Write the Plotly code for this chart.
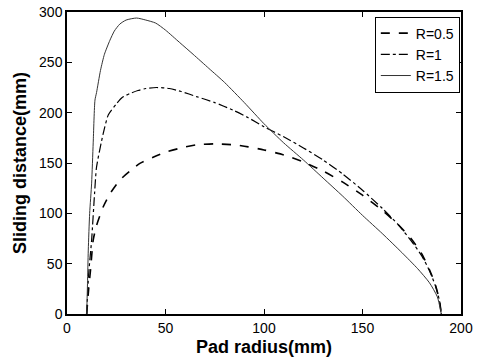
import plotly.graph_objects as go

# Data
x_r05 = [10, 11, 12, 13.3, 15, 18.4, 22, 26.8, 32, 37, 44, 50.5, 58, 65.7, 75, 85, 92, 100, 110,
         120, 130, 140, 150, 160, 168, 175, 180, 184, 187, 189, 190]
y_r05 = [0, 25, 45, 73.5, 88, 106.5, 120, 133, 142, 149.6, 156, 161, 165, 168, 169, 168, 166, 163, 158,
         151, 142, 131, 118, 103, 89, 74, 60, 44, 29, 14, 0]

x_r1 = [10, 11, 12.5, 14, 15, 18.4, 21, 25.2, 28, 31.9, 36, 40, 45.4, 52, 58, 65.7, 75, 84.2, 92, 100,
        110, 120, 130, 140, 150, 160, 168, 175, 180, 184, 187, 189, 190]
y_r1 = [0, 40, 73.5, 120, 146, 179.5, 198, 209, 215, 219, 222, 224, 225, 224, 221, 216, 210, 202.6, 195, 186,
        176, 165, 153, 139, 123, 105, 89, 72, 58, 43, 28, 14, 0]

x_r15 = [10, 10.4, 10.8, 11.5, 12.5, 13.3, 14.2, 15, 17, 19, 21.8, 24, 26.8, 30, 35.3, 40, 45, 50, 57, 64,
         72, 80, 90, 100, 110, 120, 130, 140, 150, 160, 170, 178, 184, 188, 190]
y_r15 = [0, 30, 63.5, 100, 130, 170, 212.5, 220, 242, 258, 272, 281, 288, 292, 294, 292, 289, 282, 270, 258,
         244, 230, 210, 189, 170, 153, 135, 117, 98, 80, 61, 45, 31, 17, 0]

x_ticks = [0, 50, 100, 150, 200]
y_ticks = [0, 50, 100, 150, 200, 250, 300]

fig = go.Figure()
fig.add_trace(go.Scatter(x=x_r05, y=y_r05, mode="lines", name="R=0.5",
                         line=dict(color="black", width=1.6, dash="dash", shape="spline", smoothing=0.6)))
fig.add_trace(go.Scatter(x=x_r1, y=y_r1, mode="lines", name="R=1",
                         line=dict(color="black", width=1.2, dash="dashdot", shape="spline", smoothing=0.6)))
fig.add_trace(go.Scatter(x=x_r15, y=y_r15, mode="lines", name="R=1.5",
                         line=dict(color="#333333", width=1, shape="spline", smoothing=0.6)))

axis_common = dict(showgrid=False, zeroline=False, showline=True, linecolor="black", linewidth=1.5,
                   mirror="ticks", ticks="inside", ticklen=5, tickcolor="black", tickwidth=1,
                   automargin=False,
                   tickfont=dict(family="Liberation Sans, Arial", size=14, color="black"))

fig.update_layout(
    width=480, height=362,
    margin=dict(l=67, r=19, t=12, b=48),
    paper_bgcolor="white", plot_bgcolor="white",
    showlegend=True,
    legend=dict(x=0.997, y=0.985, xanchor="right", yanchor="top",
                bgcolor="white", bordercolor="black", borderwidth=1,
                font=dict(family="Liberation Sans, Arial", size=14, color="black"),
                tracegroupgap=0, itemwidth=30),
    xaxis=dict(range=[0, 200], tickvals=x_ticks,
               title=dict(text="<b>Pad radius(mm)</b>", standoff=6,
                          font=dict(family="Liberation Sans, Arial", size=18, color="black")),
               **axis_common),
    yaxis=dict(range=[0, 300], tickvals=y_ticks,
               title=dict(text="<b>Sliding distance(mm)</b>", standoff=8,
                          font=dict(family="Liberation Sans, Arial", size=18, color="black")),
               **axis_common),
)

fig.write_html("out.html", config={"displayModeBar": False},
               post_script="document.body.style.margin='0';")
